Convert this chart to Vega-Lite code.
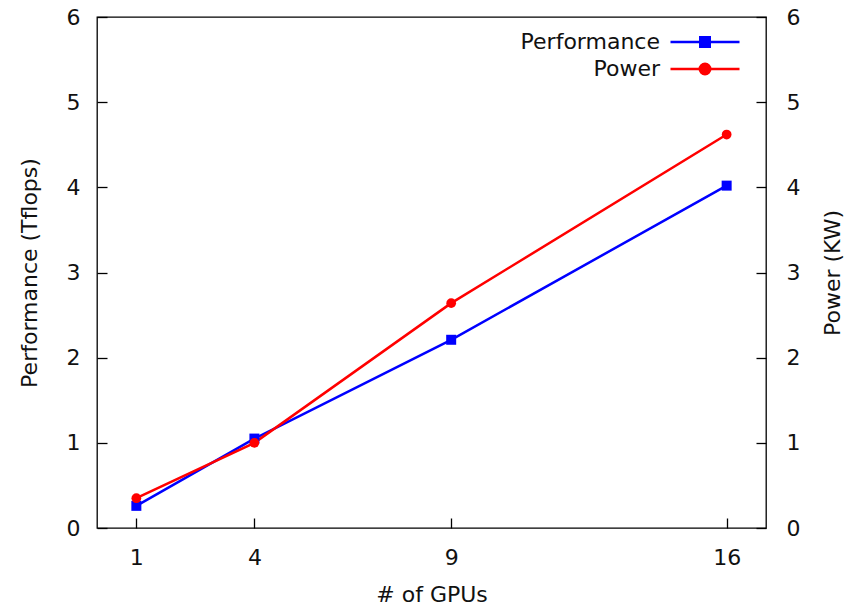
{
  "$schema": "https://vega.github.io/schema/vega-lite/v6.json",
  "width": 669,
  "height": 511,
  "autosize": "none",
  "padding": {"left": 97, "top": 17, "right": 87, "bottom": 79},
  "background": "white",
  "config": {
    "font": "DejaVu Sans",
    "view": {"stroke": "#000", "strokeWidth": 1.3},
    "axis": {
      "grid": false,
      "domain": false,
      "tickColor": "#000",
      "tickSize": -10,
      "tickWidth": 1.3,
      "labelFont": "DejaVu Sans",
      "labelFontSize": 22,
      "labelColor": "#111",
      "titleFont": "DejaVu Sans",
      "titleFontSize": 22,
      "titleFontWeight": "normal",
      "titleColor": "#111"
    },
    "legend": {
      "orient": "none",
      "legendX": 597,
      "legendY": 14,
      "title": null,
      "padding": 0,
      "symbolSize": 100,
      "symbolStrokeWidth": 2.5,
      "symbolOpacity": 1,
      "labelAlign": "right",
      "labelOffset": -56,
      "labelFont": "DejaVu Sans",
      "labelFontSize": 22,
      "labelColor": "#111",
      "rowPadding": 5,
      "labelLimit": 300
    }
  },
  "data": {
    "values": [
      {"gpus": 1, "series": "Performance", "value": 0.26},
      {"gpus": 4, "series": "Performance", "value": 1.05},
      {"gpus": 9, "series": "Performance", "value": 2.21},
      {"gpus": 16, "series": "Performance", "value": 4.02},
      {"gpus": 1, "series": "Power", "value": 0.35},
      {"gpus": 4, "series": "Power", "value": 1.0},
      {"gpus": 9, "series": "Power", "value": 2.64},
      {"gpus": 16, "series": "Power", "value": 4.62}
    ]
  },
  "layer": [
    {
      "layer": [
        {
          "transform": [{"filter": "datum.series === 'Performance'"}],
          "mark": {"type": "line", "strokeWidth": 2.5, "color": "#0000ff"}
        },
        {
          "transform": [{"filter": "datum.series === 'Power'"}],
          "mark": {"type": "line", "strokeWidth": 2.5, "color": "#ff0000"}
        },
        {
          "transform": [{"filter": "datum.series === 'Performance'"}],
          "mark": {"type": "point", "filled": true, "shape": "square", "size": 100, "opacity": 1, "color": "#0000ff"}
        },
        {
          "transform": [{"filter": "datum.series === 'Power'"}],
          "mark": {"type": "point", "filled": true, "shape": "circle", "size": 95, "opacity": 1, "color": "#ff0000"}
        },
        {
          "mark": {"type": "point", "opacity": 0, "strokeWidth": 2.5},
          "encoding": {
            "fill": {"field": "series", "type": "nominal", "scale": {"domain": ["Performance", "Power"], "range": ["#0000ff", "#ff0000"]}},
            "stroke": {"field": "series", "type": "nominal", "scale": {"domain": ["Performance", "Power"], "range": ["#0000ff", "#ff0000"]}},
            "shape": {"field": "series", "type": "nominal", "scale": {"domain": ["Performance", "Power"], "range": ["M-6.9,0H6.9M-0.95,-0.95H0.95V0.95H-0.95Z", "M-6.9,0H6.9M-1.05,0A1.05,1.05,0,1,0,1.05,0A1.05,1.05,0,1,0,-1.05,0Z"]}}
          }
        }
      ],
      "encoding": {
        "x": {
          "field": "gpus", "type": "quantitative",
          "scale": {"domain": [0, 17], "nice": false, "zero": false},
          "axis": {"values": [1, 4, 9, 16], "title": "# of GPUs", "labelPadding": 29, "titlePadding": 16}
        },
        "y": {
          "field": "value", "type": "quantitative",
          "scale": {"domain": [0, 6], "nice": false},
          "axis": {"values": [0, 1, 2, 3, 4, 5, 6], "title": "Performance (Tflops)", "labelPadding": 27, "titlePadding": 25}
        }
      }
    },
    {
      "mark": {"type": "rule", "opacity": 0},
      "encoding": {
        "y": {
          "datum": 0, "type": "quantitative",
          "scale": {"domain": [0, 6], "nice": false},
          "axis": {"orient": "right", "values": [0, 1, 2, 3, 4, 5, 6], "title": "Power (KW)", "labelPadding": 30, "titlePadding": 23, "titleAngle": 270, "titleBaseline": "top"}
        }
      }
    }
  ],
  "resolve": {"scale": {"y": "independent"}, "axis": {"y": "independent"}}
}
